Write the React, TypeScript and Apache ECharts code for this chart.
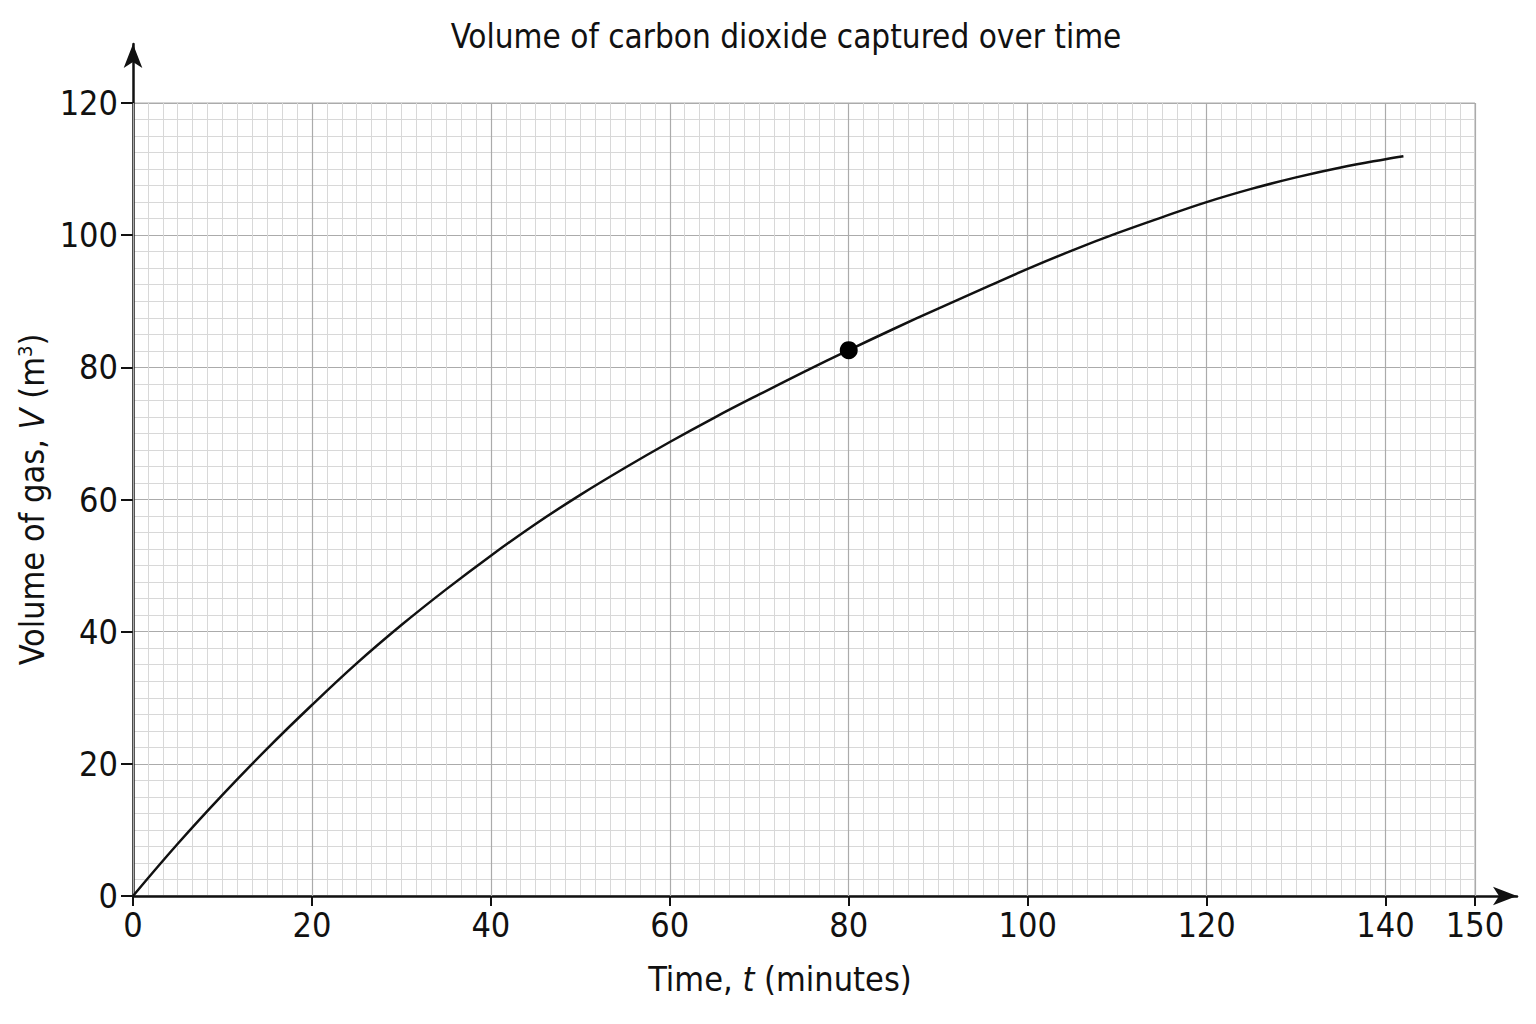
import { useEffect, useRef } from "react";
import * as echarts from "echarts";

const FONT = "'Liberation Sans Narrow', 'DejaVu Sans Condensed', 'Liberation Sans', sans-serif";
const INK = "#111111";
const MAJOR = "#ababab";
const MINOR = "#d8d8d8";

// time t (minutes) and volume V (m³)
const TIME = [0, 5, 10, 15, 20, 25, 30, 35, 40, 45, 50, 55, 60, 65, 70, 75, 80, 85, 90, 95, 100, 105, 110, 115, 120, 125, 130, 135, 140, 142];
const VOLUME = [0, 7.9, 15.3, 22.3, 28.9, 35.2, 41, 46.4, 51.5, 56.3, 60.7, 64.8, 68.7, 72.4, 75.9, 79.3, 82.6, 85.8, 88.9, 91.9, 94.9, 97.7, 100.3, 102.7, 105, 107, 108.75, 110.25, 111.5, 111.95];

// the marked point on the curve
const MARK_T = [80];
const MARK_V = [82.6];

const TITLE = "Volume of carbon dioxide captured over time";
const X_NAME = "Time, {i|t} (minutes)";
const Y_NAME = "Volume of gas, {i|V} (m{s|3})";

export default function App() {
  const elRef = useRef<HTMLDivElement>(null);

  useEffect(() => {
    const el = elRef.current;
    if (!el) return;
    const chart = echarts.init(el, undefined, { renderer: "svg" });

    const labelStyle = { color: INK, fontFamily: FONT, fontSize: 34 };
    const nameRich = {
      i: { fontFamily: FONT, fontSize: 34, fontStyle: "italic" as const, color: INK },
      s: { fontFamily: FONT, fontSize: 20, color: INK, verticalAlign: "top" as const, padding: [0, 0, 14, 0] },
    };

    chart.setOption({
      animation: false,
      backgroundColor: "#ffffff",
      title: {
        text: TITLE,
        left: 781,
        textAlign: "center",
        top: 15,
        textStyle: { color: INK, fontFamily: FONT, fontSize: 33, fontWeight: "normal" },
      },
      grid: [
        { left: 133, right: 61, top: 103, bottom: 128, show: true, borderColor: MAJOR, borderWidth: 1 },
        // wider grid used only for the arrowed axis lines
        { left: 133, right: 19, top: 44, bottom: 128 },
      ],
      xAxis: [
        {
          // data axis: fine grid
          type: "value",
          gridIndex: 0,
          min: 0,
          max: 150,
          interval: 10,
          axisLine: { show: false },
          axisTick: { show: false },
          axisLabel: { show: false },
          splitLine: { show: true, lineStyle: { color: MINOR, width: 1 } },
          minorTick: { show: false, splitNumber: 6 },
          minorSplitLine: { show: true, lineStyle: { color: MINOR, width: 1 } },
        },
        {
          // labelled axis: major lines every 20
          type: "value",
          gridIndex: 0,
          min: 0,
          max: 150,
          interval: 20,
          z: 1,
          position: "bottom",
          axisLine: { show: false },
          axisTick: { show: true, length: 10, lineStyle: { color: INK, width: 2 } },
          axisLabel: { ...labelStyle, margin: 12 },
          splitLine: { show: true, lineStyle: { color: MAJOR, width: 1.2 } },
          name: X_NAME,
          nameLocation: "middle",
          nameGap: 66,
          nameTextStyle: { ...labelStyle, rich: nameRich, padding: [0, 48, 0, 0] },
        },
        {
          type: "value",
          gridIndex: 1,
          min: 0,
          max: 1,
          axisLine: { show: true, symbol: ["none", "arrow"], symbolSize: [14, 24], lineStyle: { color: INK, width: 2.5 } },
          axisTick: { show: false },
          axisLabel: { show: false },
          splitLine: { show: false },
        },
      ],
      yAxis: [
        {
          type: "value",
          gridIndex: 0,
          min: 0,
          max: 120,
          interval: 20,
          axisLine: { show: false },
          axisTick: { show: true, length: 12, lineStyle: { color: INK, width: 2 } },
          axisLabel: { ...labelStyle, margin: 15 },
          splitLine: { show: true, lineStyle: { color: MAJOR, width: 1.2 } },
          minorTick: { show: false, splitNumber: 8 },
          minorSplitLine: { show: true, lineStyle: { color: MINOR, width: 1 } },
          name: Y_NAME,
          nameLocation: "middle",
          nameGap: 78,
          nameTextStyle: { ...labelStyle, rich: nameRich },
        },
        {
          type: "value",
          gridIndex: 1,
          min: 0,
          max: 1,
          axisLine: { show: true, symbol: ["none", "arrow"], symbolSize: [14, 24], lineStyle: { color: INK, width: 2.5 } },
          axisTick: { show: false },
          axisLabel: { show: false },
          splitLine: { show: false },
        },
      ],
      series: [
        {
          name: "Volume",
          type: "line",
          xAxisIndex: 0,
          yAxisIndex: 0,
          data: TIME.map((t, i) => [t, VOLUME[i]]),
          smooth: 0.4,
          showSymbol: false,
          symbol: "none",
          lineStyle: { color: INK, width: 2.5 },
          z: 3,
        },
        {
          name: "Marked point",
          type: "scatter",
          xAxisIndex: 0,
          yAxisIndex: 0,
          data: MARK_T.map((t, i) => [t, MARK_V[i]]),
          symbol: "circle",
          symbolSize: 18,
          itemStyle: { color: "#000000", opacity: 1 },
          z: 4,
        },
      ],
    });

    return () => {
      chart.dispose();
    };
  }, []);

  return (
    <div
      ref={elRef}
      style={{ position: "fixed", left: 0, top: 0, width: 1536, height: 1024, background: "#ffffff" }}
    />
  );
}
